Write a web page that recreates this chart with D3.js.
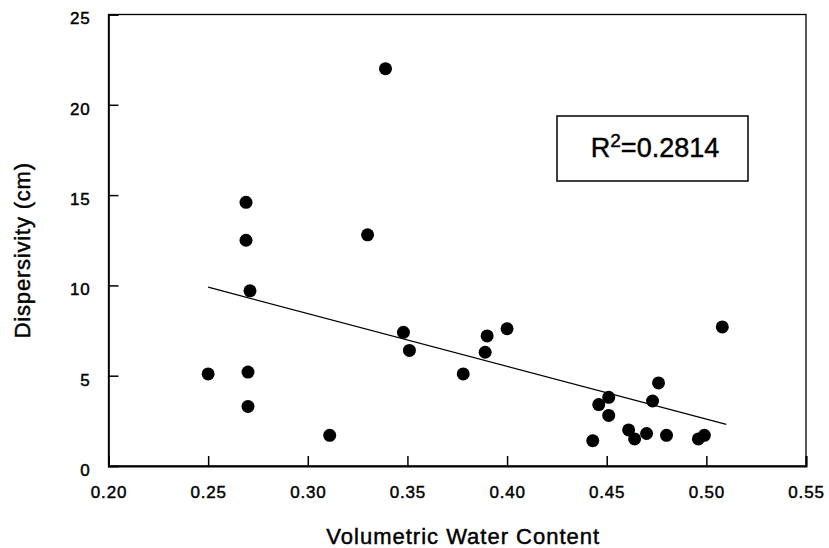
<!DOCTYPE html>
<html>
<head>
<meta charset="utf-8">
<script src="https://cdn.jsdelivr.net/npm/d3@7/dist/d3.min.js"></script>
<style>
  html, body { margin: 0; padding: 0; background: #fff; }
  svg { display: block; }
  text { font-family: "Liberation Sans", Arial, Helvetica, sans-serif; fill: #000; stroke: #000; stroke-width: 0.45px; }
</style>
</head>
<body>
<svg id="chart" width="829" height="548"></svg>
<script>
// ---- data ----
const waterContent = [0.250, 0.270, 0.270, 0.271, 0.269, 0.269, 0.311, 0.330, 0.339, 0.348,
                      0.351, 0.378, 0.389, 0.390, 0.400, 0.443, 0.446, 0.451, 0.451, 0.461,
                      0.464, 0.470, 0.473, 0.476, 0.480, 0.496, 0.499, 0.508];
const dispersivity = [5.1, 5.2, 3.3, 9.7, 14.6, 12.5, 1.7, 12.8, 22.0, 7.4,
                      6.4, 5.1, 6.3, 7.2, 7.6, 1.4, 3.4, 3.8, 2.8, 2.0,
                      1.5, 1.8, 3.6, 4.6, 1.7, 1.5, 1.7, 7.7];
const trendX = [0.25, 0.51];
const trendY = [9.9, 2.3];
const xTicks = [0.20, 0.25, 0.30, 0.35, 0.40, 0.45, 0.50, 0.55];
const yTicks = [0, 5, 10, 15, 20, 25];
const xTitle = "Volumetric Water Content";
const yTitle = "Dispersivity (cm)";
const r2Label = ["R", "2", "=0.2814"];

// ---- layout ----
const svg = d3.select("#chart");
const mLeft = 108.5, mRight = 806, mTop = 14.5, mBottom = 466;
const x = d3.scaleLinear().domain([0.20, 0.55]).range([mLeft, mRight]);
const y = d3.scaleLinear().domain([0, 25]).range([mBottom, mTop]);

// frame
svg.append("rect")
  .attr("x", mLeft).attr("y", mTop)
  .attr("width", mRight - mLeft).attr("height", mBottom - mTop)
  .attr("fill", "none").attr("stroke", "#000").attr("stroke-width", 1.3);

// x axis
const xAxis = svg.append("g")
  .attr("transform", `translate(0,${mBottom})`)
  .call(d3.axisBottom(x).tickValues(xTicks).tickFormat(d3.format(".2f"))
        .tickSize(-10).tickPadding(20));
xAxis.select(".domain").attr("stroke-width", 2);
xAxis.selectAll(".tick line").attr("stroke-width", 1.5);
xAxis.selectAll(".tick text")
  .style("font-size", "17px").style("letter-spacing", "0.8px")
  .attr("fill", "#000");

// y axis
const yAxis = svg.append("g")
  .attr("transform", `translate(${mLeft},0)`)
  .call(d3.axisLeft(y).tickValues(yTicks).tickSize(-10).tickPadding(18));
yAxis.select(".domain").attr("stroke-width", 1.6);
yAxis.selectAll(".tick line").attr("stroke-width", 1.5);
yAxis.selectAll(".tick text")
  .style("font-size", "17px").style("letter-spacing", "0.8px")
  .attr("y", 4).attr("fill", "#000");

// titles
svg.append("text")
  .attr("x", (mLeft + mRight) / 2 + 6).attr("y", 544)
  .attr("text-anchor", "middle")
  .style("font-size", "22px").style("letter-spacing", "1px")
  .text(xTitle);
svg.append("text")
  .attr("transform", `translate(30,${(mTop + mBottom) / 2 + 10}) rotate(-90)`)
  .attr("text-anchor", "middle")
  .style("font-size", "22px").style("letter-spacing", "0.8px")
  .text(yTitle);

// trend line
const trend = trendX.map((v, i) => [v, trendY[i]]);
svg.append("path")
  .datum(trend)
  .attr("d", d3.line().x(d => x(d[0])).y(d => y(d[1])))
  .attr("fill", "none").attr("stroke", "#000").attr("stroke-width", 1.3);

// points
const pts = waterContent.map((v, i) => [v, dispersivity[i]]);
svg.append("g").selectAll("circle")
  .data(pts).join("circle")
  .attr("cx", d => x(d[0])).attr("cy", d => y(d[1]))
  .attr("r", 6.5).attr("fill", "#000");

// R^2 annotation box
const box = svg.append("g");
box.append("rect")
  .attr("x", 557).attr("y", 116).attr("width", 191).attr("height", 65)
  .attr("fill", "#fff").attr("stroke", "#000").attr("stroke-width", 1.5);
const t = box.append("text")
  .attr("x", 655).attr("y", 157)
  .attr("text-anchor", "middle")
  .style("font-size", "27px");
t.append("tspan").text(r2Label[0]);
t.append("tspan").attr("dy", -10).style("font-size", "19px").text(r2Label[1]);
t.append("tspan").attr("dy", 10).text(r2Label[2]);
</script>
</body>
</html>
